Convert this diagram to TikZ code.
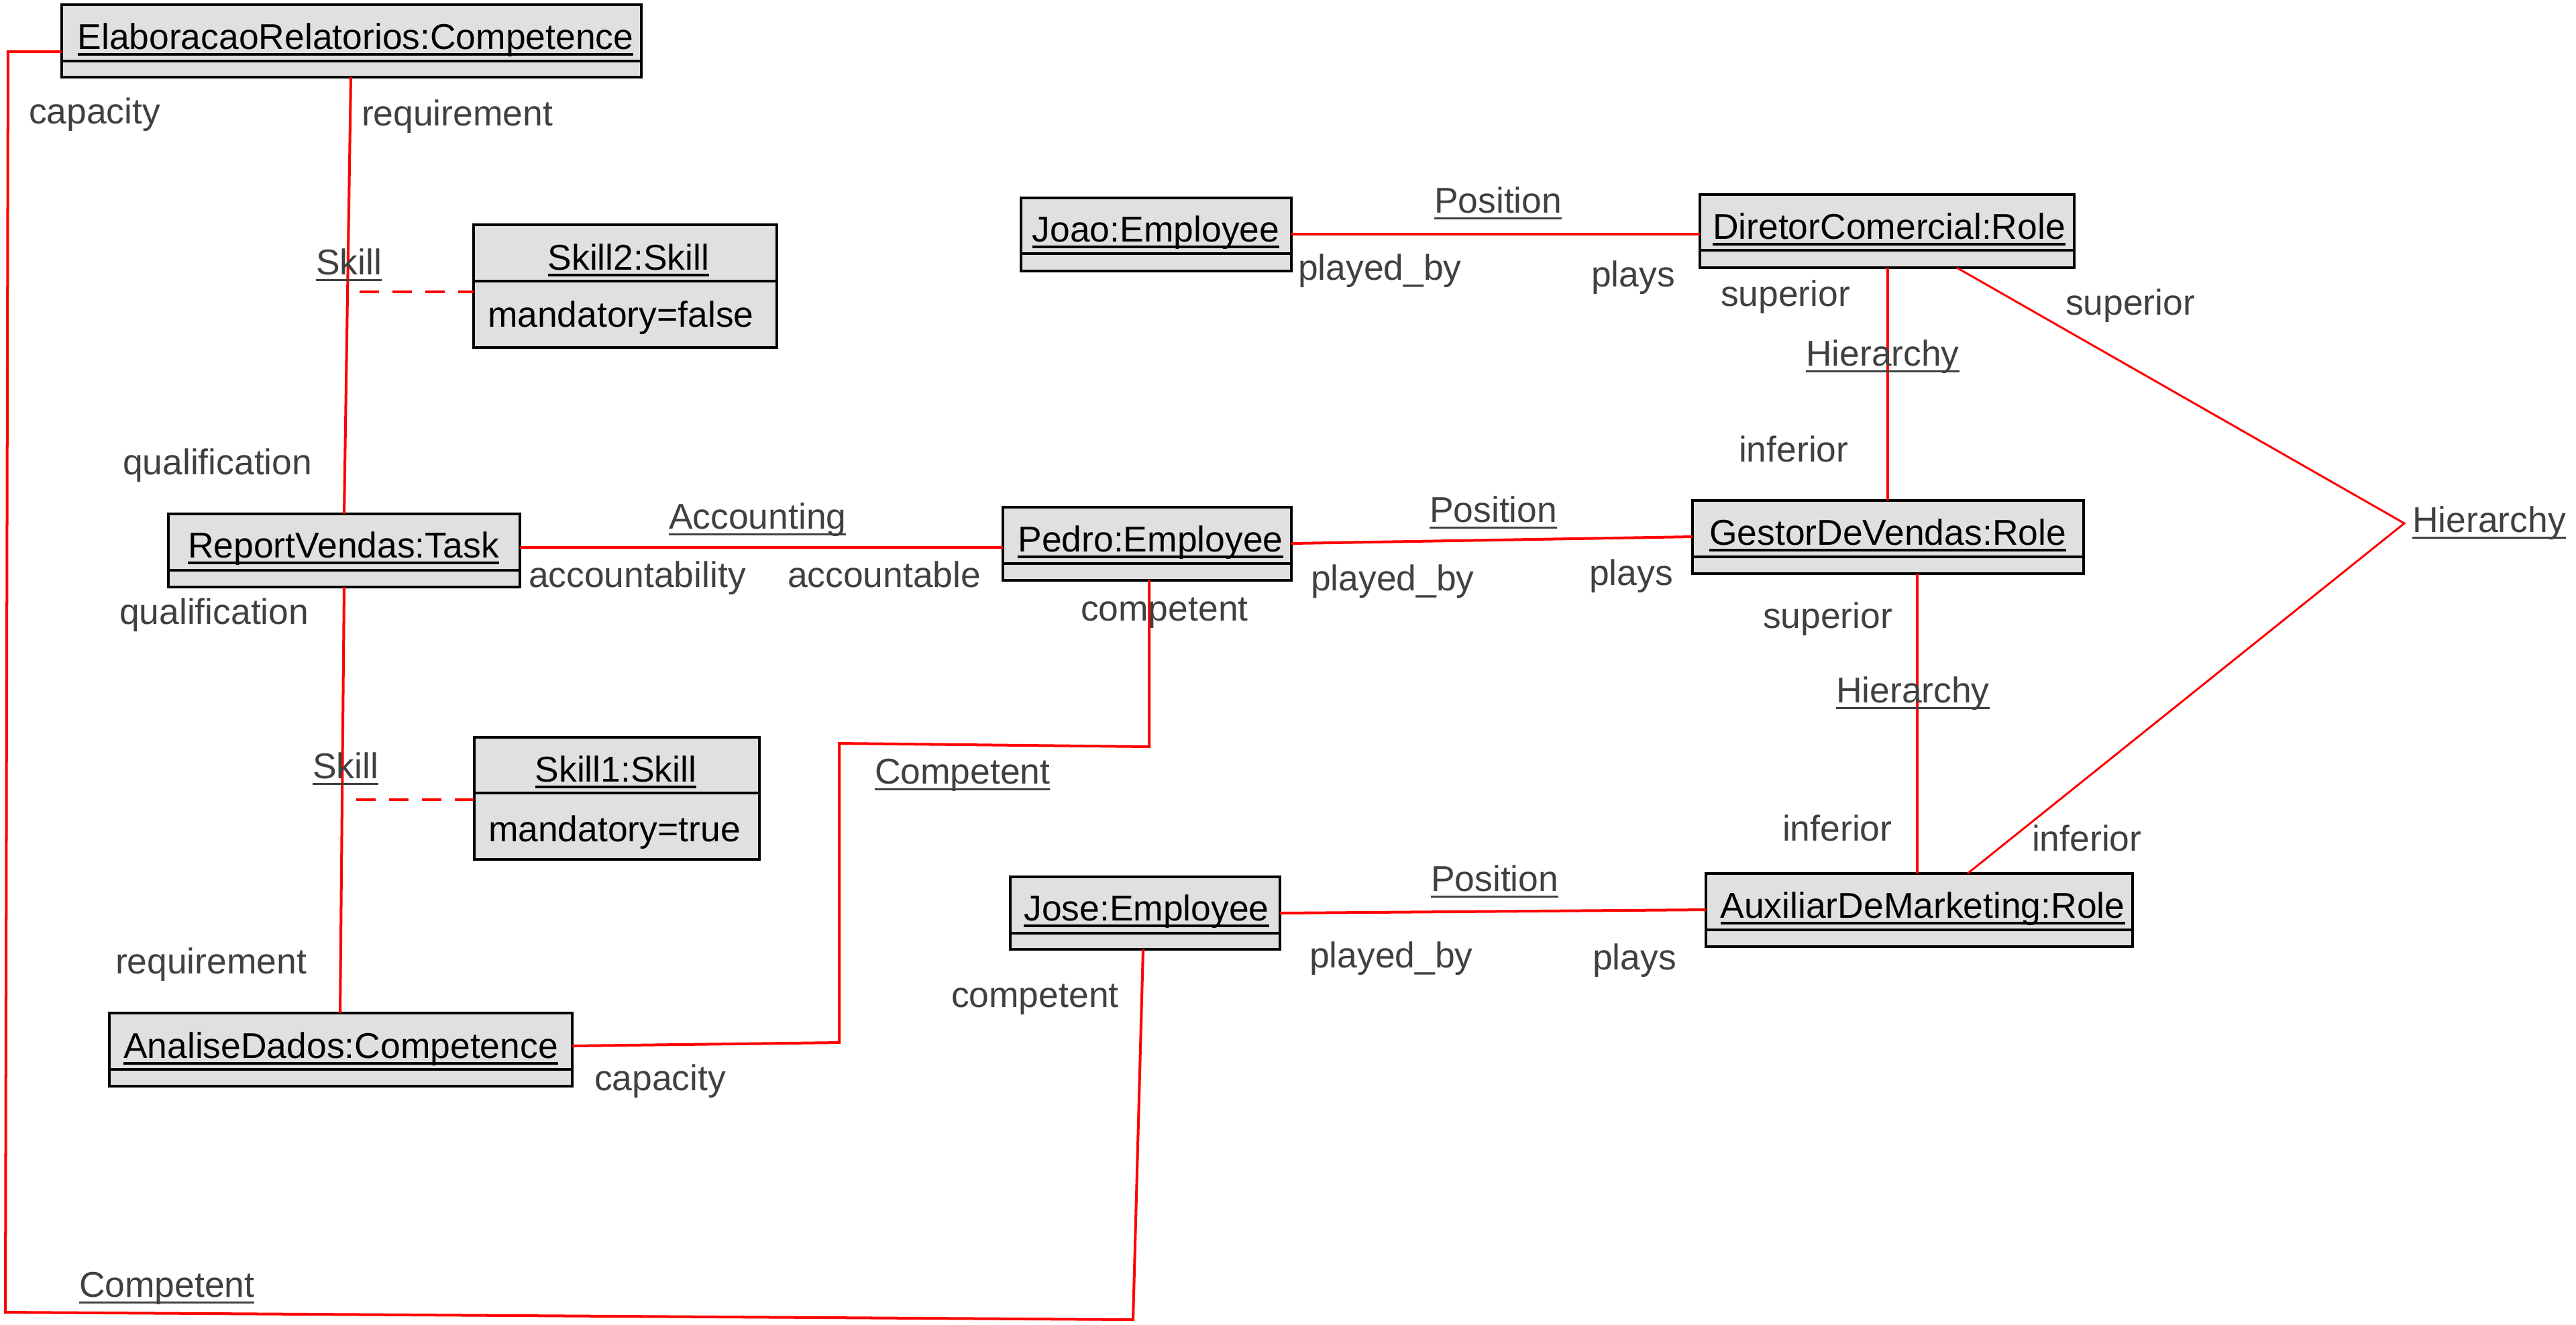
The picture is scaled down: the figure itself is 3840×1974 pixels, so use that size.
\documentclass[tikz,border=0pt]{standalone}
\usepackage{fontspec}
\setmainfont{Liberation Sans}
\definecolor{boxfill}{HTML}{E0E0E0}
\definecolor{labgray}{HTML}{404040}
\definecolor{linered}{HTML}{FF0000}
\newcommand\ulx[1]{\leavevmode\setbox0=\hbox{#1}\rlap{\vrule height -1.7pt depth 2.85pt width \wd0}\box0}
\newcommand\ulg[1]{\leavevmode\setbox0=\hbox{#1}\rlap{\vrule height -2.0pt depth 2.85pt width \wd0}\box0}
\tikzset{
  every node/.style={font=\fontsize{15.2pt}{18pt}\selectfont, inner sep=0pt, outer sep=0pt},
  objbox/.style={draw=black, fill=boxfill, line width=1.14pt, rectangle},
  divline/.style={draw=black, line width=1.14pt},
  objname/.style={anchor=base, text=black},
  attr/.style={anchor=base west, text=black},
  lab/.style={anchor=base west, text=labgray},
  assoc/.style={draw=linered, line width=1.14pt},
  diagassoc/.style={draw=linered, line width=0.85pt},
  dashline/.style={draw=linered, line width=1.14pt, dash pattern=on 8.2pt off 5.7pt},
}
\newcommand\objbox[6]{%
  \pgfmathsetmacro\bw{(#4-#2-4)/100}%
  \pgfmathsetmacro\bh{(#5-#3-4)/100}%
  \node[objbox, minimum width=\bw cm, minimum height=\bh cm] (#1) at ({(#2+#4)/2},{(#3+#5)/2}) {};
  \draw[divline] (#2+2,#6) -- (#4-2,#6);
}
\begin{document}
\begin{tikzpicture}[x=0.01cm, y=-0.01cm]
\fill[white] (0,0) rectangle (3840,1974);
\useasboundingbox (0,0) rectangle (3840,1974);

% ---------- boxes ----------
\objbox{elab}{90}{5}{958}{117}{91}
\node[objname] (elabN) at (530,73) {\ulx{ElaboracaoRelatorios:Competence}};

\objbox{skill2}{704}{333}{1160}{520}{419}
\node[objname] (skill2N) at (937,402) {\ulx{Skill2:Skill}};
\node[attr] (skill2A) at (727,487) {mandatory=false};

\objbox{joao}{1520}{293}{1927}{406}{378}
\node[objname] (joaoN) at (1723,360) {\ulx{Joao:Employee}};

\objbox{diretor}{2532}{288}{3094}{401}{373}
\node[objname] (diretorN) at (2816,356) {\ulx{DiretorComercial:Role}};

\objbox{report}{249}{764}{777}{877}{850}
\node[objname] (reportN) at (512,831) {\ulx{ReportVendas:Task}};

\objbox{pedro}{1493}{754}{1927}{867}{840}
\node[objname] (pedroN) at (1715,822) {\ulx{Pedro:Employee}};

\objbox{gestor}{2521}{744}{3108}{857}{830}
\node[objname] (gestorN) at (2814,812) {\ulx{GestorDeVendas:Role}};

\objbox{skill1}{705}{1097}{1134}{1283}{1182}
\node[objname] (skill1N) at (918,1165) {\ulx{Skill1:Skill}};
\node[attr] (skill1A) at (728,1254) {mandatory=true};

\objbox{jose}{1504}{1305}{1910}{1417}{1391}
\node[objname] (joseN) at (1709,1372) {\ulx{Jose:Employee}};

\objbox{aux}{2541}{1300}{3181}{1413}{1386}
\node[objname] (auxN) at (2866,1368) {\ulx{AuxiliarDeMarketing:Role}};

\objbox{analise}{161}{1508}{855}{1621}{1594}
\node[objname] (analiseN) at (508,1577) {\ulx{AnaliseDados:Competence}};

% ---------- connectors ----------
\draw[assoc] (elab.west |- 0,77) -- (12,77) -- (8,1956) -- (1689,1967) -- (jose.south -| 1704,0);
\draw[assoc] (elab.south -| 523,0) -- (report.north -| 513,0);
\coordinate (s2a) at (536,435);
\draw[dashline] (s2a) -- (skill2.west |- s2a);
\draw[assoc] (report.south -| 513,0) -- (analise.north -| 507,0);
\coordinate (s1a) at (531,1192);
\draw[dashline] (s1a) -- (skill1.west |- s1a);
\draw[assoc] (report.east |- 0,816) -- (pedro.west |- 0,816);
\draw[assoc] (pedro.east |- 0,810) -- (gestor.west |- 0,800);
\draw[assoc] (joao.east |- 0,349) -- (diretor.west |- 0,349);
\draw[assoc] (jose.east |- 0,1361) -- (aux.west |- 0,1356);
\draw[assoc] (pedro.south -| 1713,0) -- (1713,1113) -- (1251,1108) -- (1251,1554) -- (analise.east |- 0,1559);
\draw[assoc] (diretor.south -| 2814,0) -- (gestor.north -| 2814,0);
\draw[assoc] (gestor.south -| 2858,0) -- (aux.north -| 2858,0);
\coordinate (hj) at (3584,780);
\draw[diagassoc] (diretor.south -| 2917,0) -- (hj) -- (aux.north -| 2933,0);

% ---------- labels ----------
\node[lab] (l1) at (43,184) {capacity};
\node[lab] (l2) at (539,187) {requirement};
\node[lab] (l3) at (471,409) {\ulg{Skill}};
\node[lab] (l4) at (183,707) {qualification};
\node[lab] (l5) at (178,930) {qualification};
\node[lab] (l6) at (466,1160) {\ulg{Skill}};
\node[lab] (l7) at (172,1451) {requirement};
\node[lab] (l8) at (886,1625) {capacity};
\node[lab] (l9) at (118,1933) {\ulg{Competent}};
\node[lab] (l10) at (1418,1501) {competent};
\node[lab] (l11) at (1304,1168) {\ulg{Competent}};
\node[lab] (l12) at (1611,925) {competent};
\node[lab] (l13) at (997,788) {\ulg{Accounting}};
\node[lab] (l14) at (788,875) {accountability};
\node[lab] (l15) at (1174,875) {accountable};
\node[lab] (l16) at (2138,317) {\ulg{Position}};
\node[lab] (l17) at (1935,417) {played\_by};
\node[lab] (l18) at (2372,427) {plays};
\node[lab] (l19) at (2565,456) {superior};
\node[lab] (l20) at (3079,469) {superior};
\node[lab] (l21) at (2692,545) {\ulg{Hierarchy}};
\node[lab] (l22) at (2592,688) {inferior};
\node[lab] (l23) at (2131,778) {\ulg{Position}};
\node[lab] (l24) at (1954,880) {played\_by};
\node[lab] (l25) at (2369,872) {plays};
\node[lab] (l26) at (3596,793) {\ulg{Hierarchy}};
\node[lab] (l27) at (2628,936) {superior};
\node[lab] (l28) at (2737,1047) {\ulg{Hierarchy}};
\node[lab] (l29) at (2657,1253) {inferior};
\node[lab] (l30) at (3029,1268) {inferior};
\node[lab] (l31) at (2133,1328) {\ulg{Position}};
\node[lab] (l32) at (1952,1442) {played\_by};
\node[lab] (l33) at (2374,1445) {plays};
\end{tikzpicture}
\end{document}
